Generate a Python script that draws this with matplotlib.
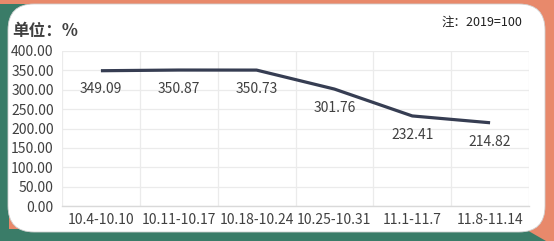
import matplotlib
matplotlib.use("Agg")
import matplotlib.pyplot as plt
from matplotlib.patches import Polygon, FancyBboxPatch

categories = ["10.4-10.10", "10.11-10.17", "10.18-10.24", "10.25-10.31", "11.1-11.7", "11.8-11.14"]
values = [349.09, 350.87, 350.73, 301.76, 232.41, 214.82]
yticks = [0, 50, 100, 150, 200, 250, 300, 350, 400]

plt.rcParams['font.family'] = ['Noto Sans CJK SC', 'DejaVu Sans']

W, H = 554, 241
fig = plt.figure(figsize=(W / 100, H / 100), dpi=100)
fig.patch.set_facecolor('#e8896b')

bg = fig.add_axes([0, 0, 1, 1], zorder=0)
bg.set_xlim(0, W)
bg.set_ylim(H, 0)
bg.axis('off')
orange = '#e8896b'
green = '#3a7c68'
bg.add_patch(Polygon([(0, 0), (W, 0), (W, H), (0, H)], closed=True, color=orange, lw=0))
bg.add_patch(Polygon([(0, 4), (30, 4), (9, 28), (9, 229), (525, 229), (546, H), (0, H)],
                     closed=True, color=green, lw=0))
bg.add_patch(FancyBboxPatch((8, 4), 537, 228, boxstyle="round,pad=0,rounding_size=26",
                            facecolor='white', edgecolor='#d0d0d0', lw=0.6))

bg.text(12, 31, "单位：%", fontsize=12, fontweight='bold', color='#404040',
        ha='left', va='center')
bg.text(522, 22, "注：2019=100", fontsize=9, color='#202020', ha='right', va='center')

ax = fig.add_axes([62 / W, (H - 206) / H, 467 / W, 155 / H], zorder=1)
ax.patch.set_alpha(0)
x = list(range(len(categories)))
ax.plot(x, values, color='#363d52', lw=2.3, solid_capstyle='butt', zorder=3)
for xi, v in zip(x, values):
    ax.annotate(f"{v:.2f}", (xi, v), xytext=(0, -13.5), textcoords='offset points',
                ha='center', va='center', fontsize=10, color='#404040', zorder=4)

ax.set_xlim(-0.5, len(categories) - 0.5)
ax.set_ylim(0, 400)
ax.set_yticks(yticks)
ax.set_yticklabels([f"{t:.2f}" for t in yticks])
ax.set_xticks(x)
ax.set_xticklabels(categories)
ax.set_xticks([i - 0.5 for i in range(len(categories) + 1)], minor=True)
ax.grid(True, axis='y', which='major', color='#ebebeb', lw=0.9)
ax.grid(True, axis='x', which='minor', color='#ebebeb', lw=0.9)
ax.tick_params(axis='both', which='both', length=0, labelsize=10, labelcolor='#404040')
ax.tick_params(axis='y', pad=6)
ax.tick_params(axis='x', pad=5)
for s in ['top', 'right', 'left']:
    ax.spines[s].set_visible(False)
ax.spines['bottom'].set_color('#d9d9d9')
ax.spines['bottom'].set_linewidth(1)

fig.savefig("out.png", dpi=100)
